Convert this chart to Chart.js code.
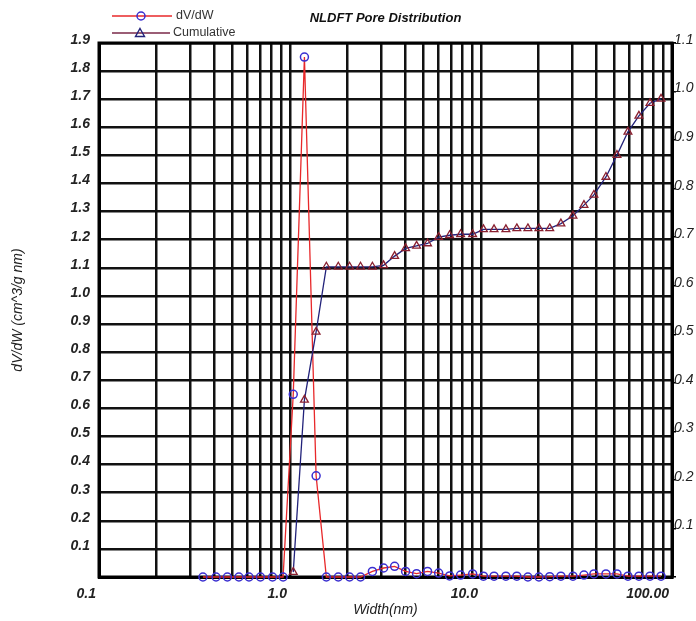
<!DOCTYPE html>
<html>
<head>
<meta charset="utf-8">
<script src="https://cdn.jsdelivr.net/npm/chart.js@4.4.1/dist/chart.umd.min.js"></script>
<style>
  html, body { margin: 0; padding: 0; background: #fff; }
</style>
</head>
<body>
<canvas id="poreChart" width="696" height="621"></canvas>
<script>
// pore widths (nm)
const widths = [0.35, 0.41, 0.47, 0.54, 0.61, 0.70, 0.81, 0.92, 1.04, 1.19, 1.37,
  1.55, 1.79, 2.05, 2.34, 2.70, 3.09, 3.53, 4.03, 4.60, 5.25, 6.00, 6.85, 7.82,
  9.04, 10.3, 11.7, 13.5, 15.4, 17.6, 20.1, 22.9, 26.2, 30.3, 34.6, 39.0, 45.1,
  51.5, 58.8, 67.1, 76.7, 87.6];

// dV/dW (cm^3/g nm), left axis
const dvdw = [0, 0, 0, 0, 0, 0, 0, 0, 0.65, 1.85, 0.36,
  0, 0, 0, 0, 0.02, 0.032, 0.038, 0.02, 0.012, 0.02, 0.014, 0.004, 0.007,
  0.011, 0.003, 0.003, 0.003, 0.003, 0, 0, 0.001, 0.003, 0.003, 0.007, 0.011, 0.011,
  0.011, 0.003, 0.003, 0.003, 0.003];

// cumulative pore volume, right axis (no points below 1 nm)
const cumulative = [null, null, null, null, null, null, null, null, 0.01, 0.365, 0.505,
  0.639, 0.639, 0.639, 0.639, 0.639, 0.642, 0.661, 0.677, 0.682, 0.687, 0.700, 0.704, 0.706,
  0.706, 0.716, 0.716, 0.716, 0.718, 0.718, 0.718, 0.718, 0.728, 0.744, 0.766, 0.787, 0.824,
  0.869, 0.917, 0.950, 0.976, 0.985];

// x grid lines (log minor ticks) and the labelled decades
const xGrid = [0.1, 0.2, 0.3, 0.4, 0.5, 0.6, 0.7, 0.8, 0.9,
  1, 2, 3, 4, 5, 6, 7, 8, 9,
  10, 20, 30, 40, 50, 60, 70, 80, 90, 100];
const xDecades = [0.1, 1, 10, 100];
const xDecadeLabels = ['0.1', '1.0', '10.0', '100.00'];

const FONT = '"Liberation Sans", Arial, sans-serif';

const dvdwPoints = widths.map((w, i) => ({ x: w, y: dvdw[i] }));
const cumPoints = [];
widths.forEach((w, i) => {
  if (cumulative[i] !== null) cumPoints.push({ x: w, y: cumulative[i] });
});

const decorations = {
  id: 'decorations',
  beforeDatasetsDraw(chart) {
    const ctx = chart.ctx, a = chart.chartArea;
    ctx.save();
    ctx.strokeStyle = '#000';
    ctx.lineWidth = 3;
    ctx.strokeRect(a.left, a.top, a.right - a.left, a.bottom - a.top);
    ctx.restore();
  },
  afterDraw(chart) {
    const ctx = chart.ctx, a = chart.chartArea;
    ctx.save();
    // title
    ctx.fillStyle = '#111';
    ctx.font = 'italic bold 13px ' + FONT;
    ctx.textAlign = 'center';
    ctx.textBaseline = 'middle';
    ctx.fillText('NLDFT Pore Distribution', (a.left + a.right) / 2, 18);

    // legend
    ctx.font = '12.5px ' + FONT;
    ctx.textAlign = 'left';
    ctx.fillStyle = '#333';
    ctx.lineWidth = 1.3;
    ctx.strokeStyle = '#e8282a';
    ctx.beginPath(); ctx.moveTo(112, 16); ctx.lineTo(172, 16); ctx.stroke();
    ctx.strokeStyle = '#3a2fd0';
    ctx.lineWidth = 1.5;
    ctx.beginPath(); ctx.arc(141, 16, 4, 0, Math.PI * 2); ctx.stroke();
    ctx.fillText('dV/dW', 176, 16);

    ctx.lineWidth = 1.3;
    ctx.strokeStyle = '#7a2848';
    ctx.beginPath(); ctx.moveTo(112, 33); ctx.lineTo(170, 33); ctx.stroke();
    ctx.strokeStyle = '#22227a';
    ctx.lineWidth = 1.4;
    ctx.beginPath();
    ctx.moveTo(140, 28.5); ctx.lineTo(144.5, 36.5); ctx.lineTo(135.5, 36.5); ctx.closePath();
    ctx.stroke();
    ctx.fillText('Cumulative', 173, 33);
    ctx.restore();
  }
};

new Chart(document.getElementById('poreChart').getContext('2d'), {
  type: 'line',
  data: {
    datasets: [
      {
        label: 'Cumulative',
        data: cumPoints,
        yAxisID: 'y1',
        borderColor: '#22227a',
        borderWidth: 1.3,
        pointStyle: 'triangle',
        pointRadius: 4.5,
        pointBorderColor: '#8a2030',
        pointBackgroundColor: 'rgba(0,0,0,0)',
        pointBorderWidth: 1.3,
        tension: 0,
        clip: false
      },
      {
        label: 'dV/dW',
        data: dvdwPoints,
        yAxisID: 'y',
        borderColor: '#e8282a',
        borderWidth: 1.3,
        pointStyle: 'circle',
        pointRadius: 4,
        pointBorderColor: '#3a2fd0',
        pointBackgroundColor: 'rgba(0,0,0,0)',
        pointBorderWidth: 1.5,
        tension: 0,
        clip: false
      }
    ]
  },
  options: {
    responsive: false,
    animation: false,
    layout: { padding: { top: 43, left: 0, right: 0, bottom: 0 } },
    plugins: {
      legend: { display: false },
      title: { display: false },
      tooltip: { enabled: false }
    },
    scales: {
      x: {
        type: 'logarithmic',
        min: 0.1,
        max: 100,
        afterBuildTicks: scale => { scale.ticks = xGrid.map(v => ({ value: v })); },
        afterFit: scale => { scale.height = 44; },
        grid: { color: '#111', lineWidth: 2.5, drawTicks: false },
        border: { display: true, color: '#000', width: 3 },
        ticks: {
          autoSkip: false,
          maxRotation: 0,
          align: 'end',
          labelOffset: -3,
          padding: 9,
          color: '#222',
          font: { family: FONT, size: 14, style: 'italic', weight: 'bold' },
          callback: value => {
            const k = xDecades.findIndex(d => Math.abs(d - value) < 1e-9);
            return k >= 0 ? xDecadeLabels[k] : '';
          }
        },
        title: {
          display: true,
          text: 'Width(nm)',
          color: '#222',
          font: { family: FONT, size: 14, style: 'italic' },
          padding: { top: 0, bottom: 2 }
        }
      },
      y: {
        position: 'left',
        min: 0,
        max: 1.9,
        afterFit: scale => { scale.width = 99; },
        grid: { color: '#111', lineWidth: 2.5, drawTicks: false },
        border: { display: true, color: '#000', width: 3 },
        ticks: {
          stepSize: 0.1,
          padding: 9,
          labelOffset: -3,
          color: '#222',
          font: { family: FONT, size: 14, style: 'italic', weight: 'bold' },
          callback: value => (value < 0.05 ? '' : value.toFixed(1))
        },
        title: {
          display: true,
          text: 'dV/dW (cm^3/g nm)',
          color: '#222',
          font: { family: FONT, size: 14, style: 'italic' },
          padding: { top: 10, bottom: 0 }
        }
      },
      y1: {
        position: 'right',
        min: 0,
        max: 1.1,
        afterFit: scale => { scale.width = 24; },
        grid: { drawOnChartArea: false, drawTicks: true, tickLength: 4, color: '#000', lineWidth: 1.5 },
        border: { display: true, color: '#000', width: 3 },
        ticks: {
          stepSize: 0.1,
          padding: -2,
          labelOffset: -3,
          color: '#222',
          font: { family: FONT, size: 14, style: 'italic' },
          callback: value => (value < 0.05 ? '' : value.toFixed(1))
        }
      }
    }
  },
  plugins: [decorations]
});
</script>
</body>
</html>
